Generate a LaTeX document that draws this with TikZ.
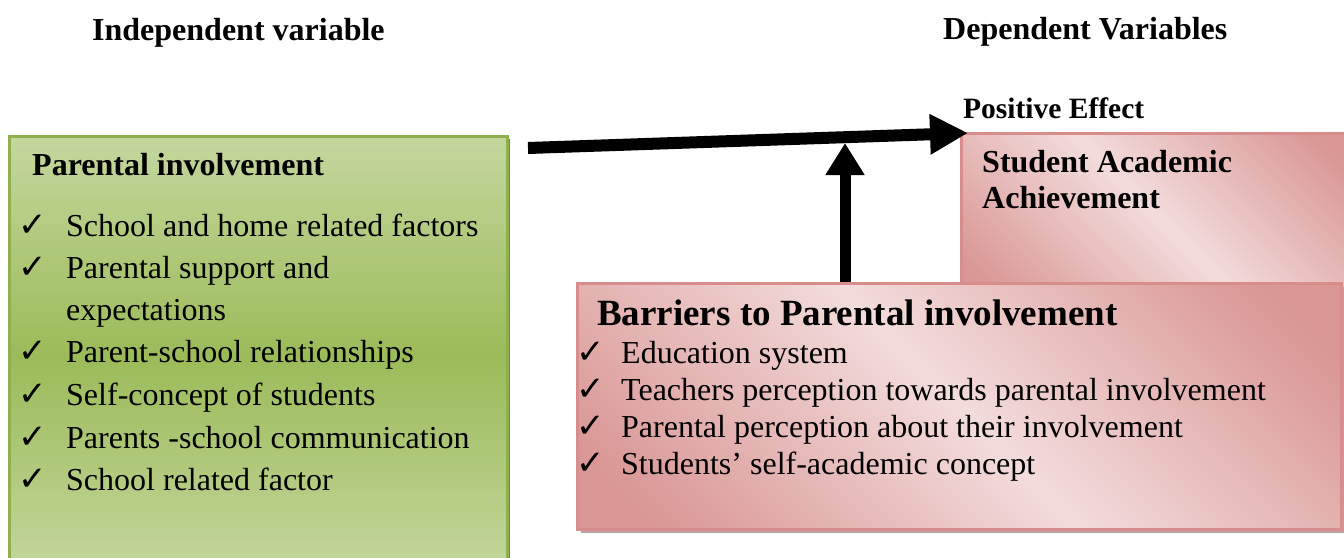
\documentclass[tikz,border=0pt]{standalone}
\usepackage{fontspec}
\setmainfont{Liberation Serif}
\newfontfamily\symfont{DejaVu Sans}
\usetikzlibrary{arrows.meta,shadows}

\definecolor{greenlight}{HTML}{C4D79E}
\definecolor{greenmid}{HTML}{9BBB59}
\definecolor{greenedge}{HTML}{8FB04E}
\definecolor{greenshadow}{HTML}{6E8C38}
\definecolor{pinkdark}{HTML}{D99694}
\definecolor{pinklight}{HTML}{F2DCDB}
\definecolor{pinkedge}{HTML}{D68D8B}
\definecolor{pinkshadow}{HTML}{B8A2A2}

% diagonal band: dark corners, light along the middle
\pgfdeclareverticalshading{pinkband}{100bp}{color(0bp)=(pinkdark); color(20bp)=(pinkdark);
  color(50bp)=(pinklight); color(80bp)=(pinkdark); color(100bp)=(pinkdark)}

\newcommand{\tick}{{\symfont\fontsize{34}{34}\selectfont ✓}}

\tikzset{
  greenbox/.style={draw=greenedge, line width=2.5pt, top color=greenlight,
    bottom color=greenlight, middle color=greenmid, inner sep=0pt,
    drop shadow={shadow xshift=2.5pt, shadow yshift=-2.5pt, fill=greenshadow, opacity=1}},
  pinkbox/.style={draw=pinkedge, line width=2.5pt, shading=pinkband, shading angle=-45, inner sep=0pt},
  title/.style={anchor=base west, inner sep=0pt, font=\fontsize{32}{36}\selectfont\bfseries},
  item/.style={anchor=base west, inner sep=0pt, font=\fontsize{32}{36}\selectfont},
  tickmark/.style={anchor=base west, inner sep=0pt},
  bigarrow/.style={line width=12pt, -{Triangle[length=38pt,width=38pt]}},
}

\begin{document}
\begin{tikzpicture}[x=1pt, y=-1pt]
\useasboundingbox (0,0) rectangle (1344,557);

% column titles
\node[title] (ttl1) at (92,40) {Independent variable};
\node[title] (ttl2) at (943,39) {Dependent Variables};

% independent variable box
\node[greenbox, anchor=north west, minimum width=498pt, minimum height=440pt] (indep) at (8,135) {};
\node[title] (h1) at (32,175) {Parental involvement};
\foreach \y/\t [count=\i] in {236/School and home related factors,
                   278/Parental support and,
                   362/Parent-school relationships,
                   405/Self-concept of students,
                   448/Parents -school communication,
                   490/School related factor}{
  \node[tickmark] (c\i) at (18,\y) {\tick};
  \node[item] (i\i) at (66,\y) {\t};
}
\node[item] (i2b) at (66,320) {expectations};

% dependent variable box
\node[pinkbox, anchor=north west, minimum width=400pt, minimum height=175pt] (dep) at (960,132) {};
\node[title] (h2) at (982,172) {Student Academic};
\node[title] (h2b) at (982,208) {Achievement};
\node[anchor=base west, inner sep=0pt, font=\fontsize{29.5}{30}\selectfont\bfseries] (pos) at (963,118) {Positive Effect};

% barriers box
\node[pinkbox, anchor=north west, minimum width=764pt, minimum height=246pt,
  drop shadow={shadow xshift=3.5pt, shadow yshift=-4pt, fill=pinkshadow, opacity=1}] (barriers) at (576,282) {};
\node[anchor=base west, inner sep=0pt, font=\fontsize{37}{40}\selectfont\bfseries] (h3) at (597,325) {Barriers to Parental involvement};
\foreach \y/\t [count=\i] in {363/Education system,
                   400/Teachers perception towards parental involvement,
                   437/Parental perception about their involvement,
                   474/Students’ self-academic concept}{
  \node[tickmark] (d\i) at (576,\y) {\tick};
  \node[item] (j\i) at (621,\y) {\t};
}

% connectors
\coordinate (hstart) at (528,148);
\coordinate (htip) at (968,133);
\coordinate (vtip) at (845,143);
\draw[bigarrow] (hstart) -- (htip);
\draw[bigarrow, line width=11pt, -{Triangle[length=32pt,width=37pt]}] (barriers.north -| vtip) -- (vtip);
\end{tikzpicture}
\end{document}
